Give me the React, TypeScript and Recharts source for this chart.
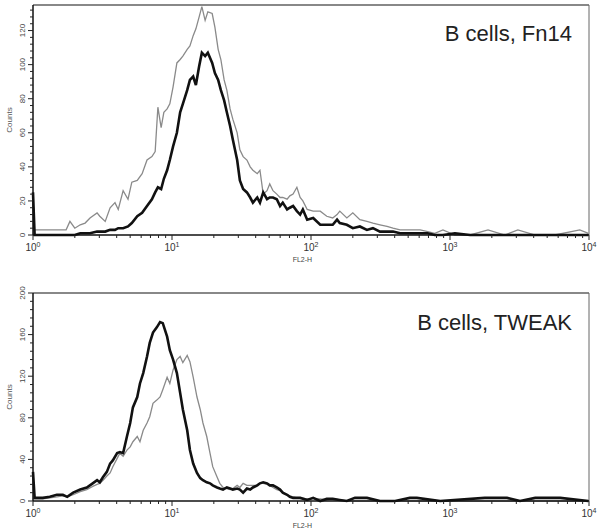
import { LineChart, Line, XAxis, YAxis, ReferenceLine } from "recharts";

// FL2-H channels (1024-channel, 4-decade log scale) and counts
const fn14Channels = [
  0, 3, 13, 31, 50, 61, 68, 77, 87, 96,
  105, 118, 123, 133, 142, 151, 157, 166, 175, 182,
  192, 201, 210, 219, 225, 230, 236, 241, 247, 252,
  258, 265, 271, 276, 284, 289, 295, 300, 306, 311,
  317, 322, 330, 335, 341, 346, 352, 357, 363, 368,
  376, 381, 387, 394, 400, 405, 413, 418, 424, 431,
  436, 442, 449, 455, 460, 468, 473, 479, 486, 492,
  497, 505, 516, 529, 541, 552, 560, 565, 578, 589,
  602, 615, 626, 639, 652, 663, 676, 694, 713, 727,
  740, 755, 777, 805, 838, 869, 893, 925, 961, 1007,
  1023,
];
const fn14Control = [
  3, 3, 3, 3, 3, 3, 8, 4, 6, 7,
  10, 13, 11, 8, 16, 19, 15, 26, 21, 31,
  32, 36, 44, 46, 49, 75, 63, 72, 74, 77,
  87, 101, 103, 105, 109, 111, 117, 121, 128, 134,
  126, 131, 130, 122, 109, 103, 91, 85, 74, 68,
  60, 50, 46, 44, 40, 38, 36, 38, 24, 26,
  30, 26, 24, 22, 22, 21, 23, 24, 28, 22,
  20, 15, 14, 14, 11, 10, 12, 14, 10, 13,
  9, 8, 7, 6, 5, 4, 3, 3, 3, 2,
  1, 3, 0, 0, 3, 0, 3, 0, 0, 3,
  1,
];
const fn14Stained = [
  25, 0, 0, 0, 0, 0, 0, 0, 1, 1,
  1, 2, 2, 2, 3, 3, 4, 4, 5, 7,
  11, 13, 17, 21, 25, 28, 27, 33, 38, 44,
  52, 60, 72, 77, 85, 91, 93, 88, 99, 107,
  105, 107, 101, 95, 91, 85, 79, 72, 64, 56,
  44, 32, 27, 25, 22, 19, 22, 19, 25, 21,
  22, 22, 21, 17, 19, 15, 16, 17, 14, 12,
  15, 9, 10, 6, 6, 6, 9, 7, 6, 4,
  5, 3, 4, 2, 2, 2, 1, 1, 1, 1,
  0, 0, 1, 0, 0, 0, 0, 0, 0, 0,
  0,
];

const tweakChannels = [
  0, 3, 18, 31, 44, 55, 63, 74, 87, 99,
  110, 118, 123, 129, 136, 142, 147, 155, 160, 166,
  173, 179, 184, 192, 197, 203, 210, 215, 221, 228,
  234, 239, 247, 252, 258, 265, 271, 276, 284, 289,
  295, 302, 308, 313, 320, 326, 331, 339, 344, 350,
  357, 363, 368, 376, 381, 387, 394, 400, 405, 413,
  418, 424, 431, 436, 442, 449, 455, 460, 468, 473,
  479, 486, 492, 505, 516, 529, 541, 552, 565, 578,
  593, 615, 639, 667, 694, 707, 750, 832, 855, 873,
  897, 925, 971, 1023,
];
const tweakControl = [
  3, 2, 2, 3, 4, 5, 4, 6, 9, 11,
  14, 16, 17, 20, 24, 27, 33, 41, 46, 43,
  49, 52, 57, 62, 57, 68, 75, 81, 94, 97,
  100, 107, 119, 113, 126, 136, 139, 133, 140, 134,
  119, 100, 88, 75, 62, 46, 33, 23, 17, 13,
  12, 11, 12, 15, 13, 17, 15, 15, 15, 15,
  17, 17, 16, 15, 13, 11, 10, 8, 6, 5,
  4, 3, 3, 2, 2, 2, 1, 2, 1, 0,
  0, 0, 0, 0, 0, 0, 0, 0, 0, 0,
  0, 0, 0, 0,
];
const tweakStained = [
  28, 3, 3, 4, 6, 6, 4, 8, 11, 13,
  17, 20, 18, 23, 28, 36, 39, 46, 47, 46,
  62, 75, 90, 100, 113, 123, 139, 152, 162, 167,
  172, 171, 158, 145, 136, 123, 104, 88, 68, 49,
  36, 27, 22, 20, 18, 17, 15, 13, 12, 11,
  13, 12, 11, 12, 11, 8, 12, 11, 13, 15,
  17, 18, 17, 15, 15, 13, 11, 8, 6, 4,
  3, 3, 3, 1, 3, 0, 2, 2, 1, 0,
  3, 3, 0, 0, 3, 3, 0, 3, 3, 3,
  0, 3, 3, 0,
];

const decadeTicks = [0, 256, 512, 768, 1024];
const xTicks: number[] = [];
for (let d = 0; d < 4; d++) {
  for (let k = 1; k <= 9; k++) xTicks.push(d * 256 + 256 * Math.log10(k));
}
xTicks.push(1024);

const font = "'Liberation Sans', Arial, sans-serif";

const XTick = (props: any) => {
  const { x, y, payload } = props;
  const major = decadeTicks.includes(payload.value);
  return (
    <g>
      <line x1={x} x2={x} y1={y} y2={y + (major ? 5 : 3)} stroke="#222" strokeWidth={1} />
      {major && (
        <text x={x} y={y + 16} textAnchor="middle" fontSize={10} style={{ fill: "#333" }} fontFamily={font}>
          10
          <tspan dy={-4} fontSize={7}>
            {payload.value / 256}
          </tspan>
        </text>
      )}
    </g>
  );
};

const makeYTick = (step: number) => (props: any) => {
  const { x, y, payload } = props;
  const major = payload.value % step === 0;
  return (
    <g>
      <line x1={x} x2={x - (major ? 5 : 3)} y1={y} y2={y} stroke="#222" strokeWidth={1} />
      {major && (
        <text
          x={x - 8}
          y={y}
          transform={`rotate(-90 ${x - 8} ${y})`}
          textAnchor="middle"
          fontSize={8}
          style={{ fill: "#444" }}
          fontFamily={font}
        >
          {payload.value}
        </text>
      )}
    </g>
  );
};

function Histogram({
  channels,
  control,
  stained,
  yMax,
  yTicks,
  yStep,
  height,
  topMargin,
}: {
  channels: number[];
  control: number[];
  stained: number[];
  yMax: number;
  yTicks: number[];
  yStep: number;
  height: number;
  topMargin: number;
}) {
  const data = channels.map((ch, i) => ({ ch, control: control[i], stained: stained[i] }));
  return (
    <LineChart width={600} height={height} data={data} margin={{ top: topMargin, right: 11, left: 5, bottom: 0 }}>
      <XAxis
        dataKey="ch"
        type="number"
        domain={[0, 1024]}
        ticks={xTicks}
        interval={0}
        tick={<XTick />}
        tickLine={false}
        tickSize={0}
        tickMargin={0}
        height={30}
        axisLine={{ stroke: "#111", strokeWidth: 1.5 }}
        label={{
          content: (p: any) => (
            <text
              x={p.viewBox.x + p.viewBox.width * 0.49 - 3}
              y={p.viewBox.y + 27}
              textAnchor="middle"
              fontSize={7}
              style={{ fill: "#444" }}
              fontFamily={font}
            >
              FL2-H
            </text>
          ),
        }}
      />
      <YAxis
        type="number"
        domain={[0, yMax]}
        ticks={yTicks}
        interval={0}
        tick={makeYTick(yStep)}
        tickLine={false}
        tickSize={0}
        tickMargin={0}
        width={28}
        axisLine={{ stroke: "#111", strokeWidth: 1.5 }}
        label={{
          content: (p: any) => {
            const cx = p.viewBox.x + 7;
            const cy = p.viewBox.y + p.viewBox.height / 2;
            return (
              <text
                x={cx}
                y={cy}
                transform={`rotate(-90 ${cx} ${cy})`}
                textAnchor="middle"
                fontSize={8}
                style={{ fill: "#555" }}
                fontFamily={font}
              >
                Counts
              </text>
            );
          },
        }}
      />
      <ReferenceLine y={yMax} stroke="#888" strokeWidth={2} />
      <ReferenceLine x={1024} stroke="#666" strokeWidth={1} />
      <Line
        type="linear"
        dataKey="control"
        stroke="#8a8a8a"
        strokeWidth={1.3}
        dot={false}
        isAnimationActive={false}
      />
      <Line
        type="linear"
        dataKey="stained"
        stroke="#111"
        strokeWidth={2.6}
        dot={false}
        isAnimationActive={false}
      />
    </LineChart>
  );
}

const titleStyle = {
  position: "absolute" as const,
  right: 28,
  fontFamily: font,
  fontSize: 22,
  lineHeight: "22px",
  color: "#222",
  whiteSpace: "nowrap" as const,
};

export default function App() {
  const topTicks = Array.from({ length: 34 }, (_, i) => i * 4);
  const bottomTicks = Array.from({ length: 26 }, (_, i) => i * 8);
  return (
    <div style={{ position: "absolute", left: 0, top: 0, width: 600, height: 531, background: "#fff" }}>
      <div style={{ position: "absolute", left: 0, top: 0 }}>
        <Histogram
          channels={fn14Channels}
          control={fn14Control}
          stained={fn14Stained}
          yMax={135}
          yTicks={topTicks}
          yStep={20}
          height={265}
          topMargin={5}
        />
      </div>
      <div style={{ ...titleStyle, top: 23 }}>B cells, Fn14</div>
      <div style={{ position: "absolute", left: 0, top: 265 }}>
        <Histogram
          channels={tweakChannels}
          control={tweakControl}
          stained={tweakStained}
          yMax={200}
          yTicks={bottomTicks}
          yStep={40}
          height={266}
          topMargin={28}
        />
      </div>
      <div style={{ ...titleStyle, top: 312 }}>B cells, TWEAK</div>
    </div>
  );
}
